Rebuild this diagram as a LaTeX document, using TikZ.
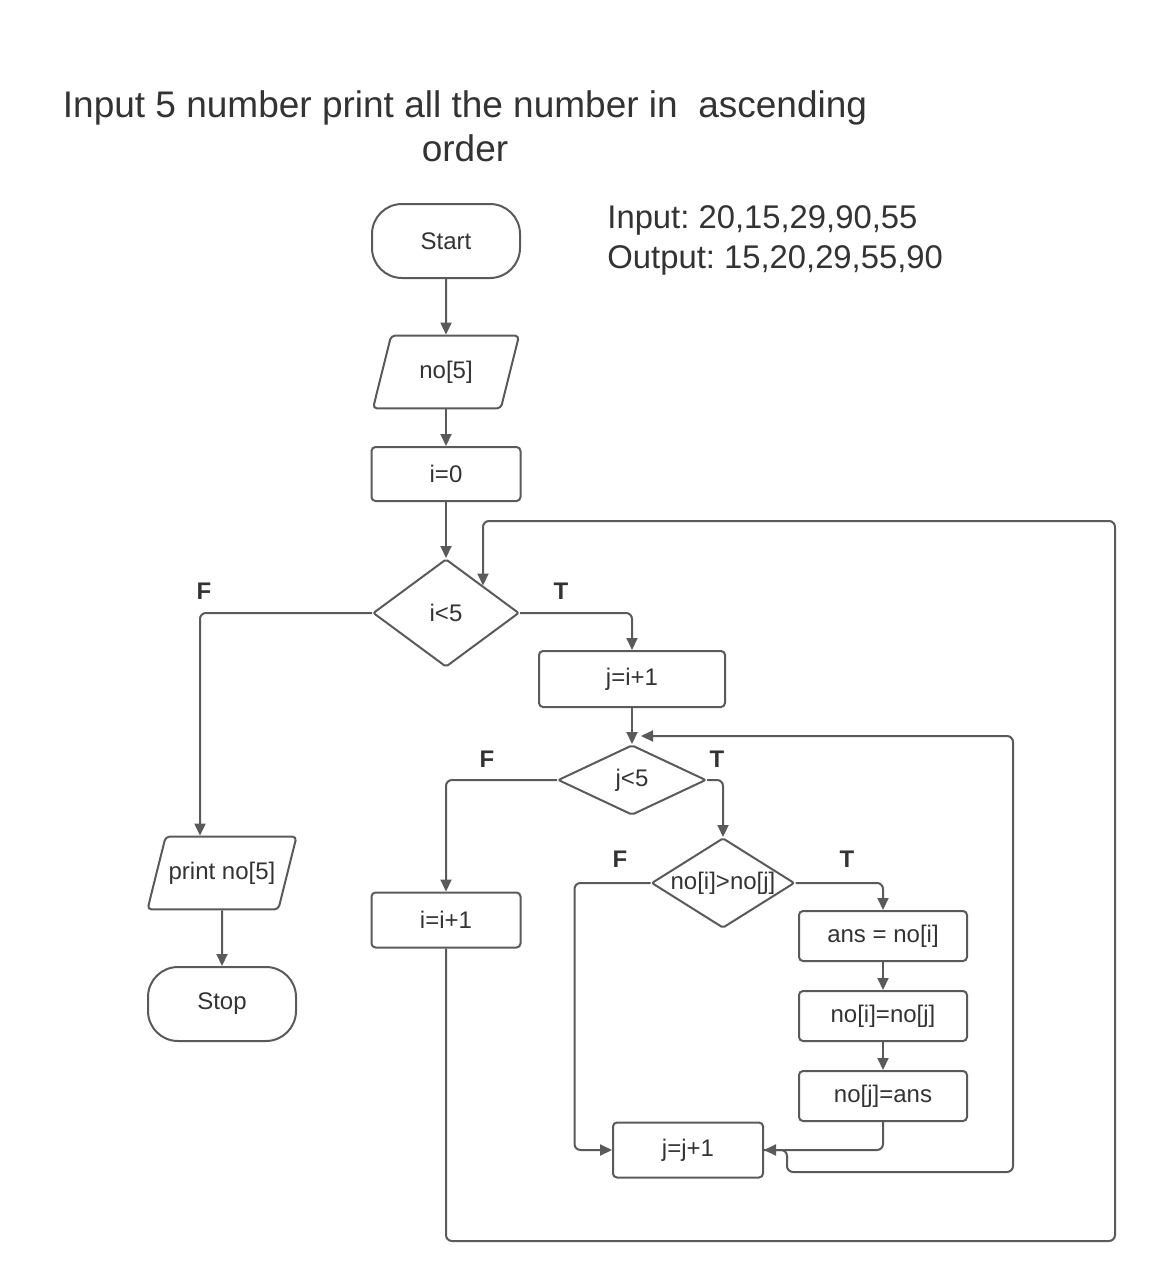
\documentclass[tikz,border=0pt]{standalone}
\usepackage{fontspec}
\setmainfont{Liberation Sans}
\usetikzlibrary{shapes.geometric,arrows.meta}

\definecolor{edge}{HTML}{5A5A5A}
\definecolor{ink}{HTML}{333333}

\begin{document}
\frenchspacing
\begin{tikzpicture}[x=0.5pt, y=-0.5pt, >={Triangle[length=6pt,width=5.5pt]}]
	\tikzstyle{every node}=[inner sep=1pt, align=center, text=ink, font=\fontsize{12}{14}\selectfont]
	\tikzstyle{outline}=[draw=edge, line width=1pt]
	\tikzstyle{terminal}=[outline, rounded corners=15pt, minimum width=74pt, minimum height=37pt]
	\tikzstyle{process}=[outline, rounded corners=2pt, minimum width=74.5pt, minimum height=27pt]
	\tikzstyle{inout}=[outline, trapezium, trapezium left angle=76, trapezium right angle=104, trapezium stretches body, rounded corners=2pt, inner ysep=12.6pt, minimum width=73pt]
	\tikzstyle{decision}=[outline, diamond, inner sep=0pt, rounded corners=1pt]
	\tikzstyle{link}=[draw=edge, line width=1pt, rounded corners=3pt]
	\tikzstyle{tf}=[font=\fontsize{12}{14}\selectfont\bfseries]
	\useasboundingbox (0,0) rectangle (1153,1280);

	% heading and example data
	\node (title) at (465,126) [inner sep=0pt, font=\fontsize{18.5}{22}\selectfont] {Input 5 number print all the number in\ \ ascending\\order};
	\node (given) at (607,240) [anchor=west, align=left, inner sep=0pt, font=\fontsize{16.4}{20}\selectfont] {Input: 20,15,29,90,55\\Output: 15,20,29,55,90};

	% main column
	\node[terminal] (start) at (446,241) {Start};
	\node[inout] (arr) at (446,372) {no[5]};
	\node[process] (init) at (446,474) {i=0};
	\node[decision, minimum width=73pt, minimum height=54pt] (outer) at (446,613) {i<5};
	\node[process, minimum width=93pt, minimum height=28pt] (setj) at (632,679) {j=i+1};
	\node[decision, minimum width=74pt, minimum height=35pt] (inner) at (632,780) {j<5};
	\node[decision, minimum width=71.5pt, minimum height=45pt] (cmp) at (723,883) {\makebox[0pt]{no[i]>no[j]}};
	\node[process, minimum width=84pt, minimum height=25pt] (swapa) at (883,936) {ans = no[i]};
	\node[process, minimum width=84pt, minimum height=25pt] (swapb) at (883,1016) {no[i]=no[j]};
	\node[process, minimum width=84pt, minimum height=25pt] (swapc) at (883,1096) {no[j]=ans};
	\node[process, minimum width=75pt, minimum height=27.5pt] (incj) at (688,1150) {j=j+1};
	\node[process, minimum height=27.5pt] (inci) at (446,920) {i=i+1};
	\node[inout, minimum width=74.5pt] (show) at (222,873) {print no[5]};
	\node[terminal] (stop) at (222,1004) {Stop};

	% branch labels
	\node[tf] (f1) at (204,591) {F};
	\node[tf] (t1) at (561,591) {T};
	\node[tf] (f2) at (487,759) {F};
	\node[tf] (t2) at (717,759) {T};
	\node[tf] (f3) at (620,859) {F};
	\node[tf] (t3) at (847,859) {T};

	% loop corners
	\coordinate (jret) at (1013,1172);
	\coordinate (jin) at (641,736);
	\coordinate (iret) at (1115,1241);
	\coordinate (itop) at (1115,521);

	\draw[link,->] (start) -- (arr);
	\draw[link,->] (arr) -- (init);
	\draw[link,->] (init) -- (outer);
	\draw[link,->] (outer.west) -| ([xshift=-11pt]show.north);
	\draw[link,->] (outer.east) -| (setj.north);
	\draw[link,->] (setj) -- (inner);
	\draw[link,->] (inner.west) -| (inci.north);
	\draw[link,->] (inner.east) -| (cmp.north);
	\draw[link,->] (cmp.west) -- ++(-76,0) |- (incj.west);
	\draw[link,->] (cmp.east) -| (swapa.north);
	\draw[link,->] (swapa) -- (swapb);
	\draw[link,->] (swapb) -- (swapc);
	\draw[link,->] (swapc.south) |- (incj.east);
	\draw[link,->] (incj.east) -- ++(23,0) |- (jret) |- (jin);
	\draw[link,->] (inci.south) |- (iret) -- (itop) -| (outer.north east);
	\draw[link,->] (show) -- (stop);
\end{tikzpicture}
\end{document}
